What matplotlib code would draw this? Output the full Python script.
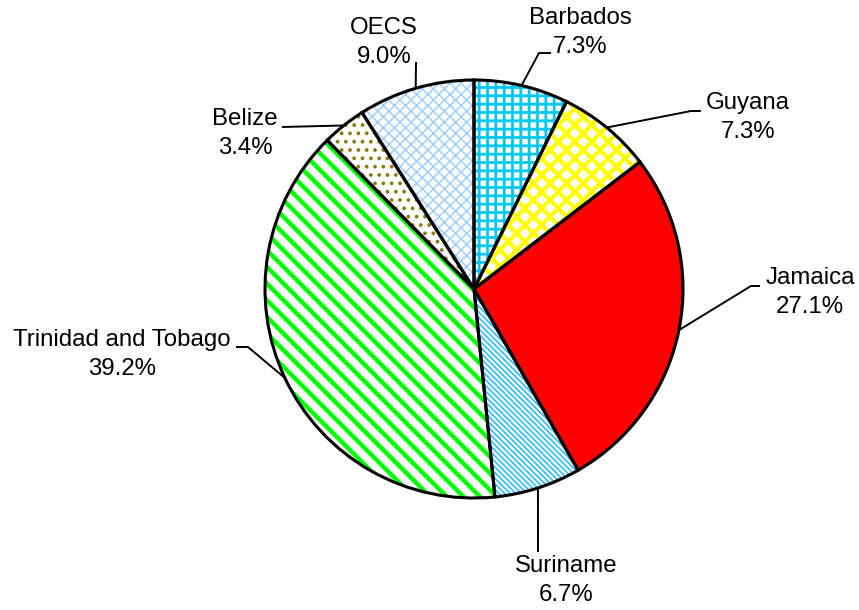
import numpy as np
import matplotlib
matplotlib.use("Agg")
import matplotlib.pyplot as plt

plt.rcParams['font.family'] = ['Liberation Sans', 'DejaVu Sans']

# Datos del gráfico
paises = ['Barbados', 'Guyana', 'Jamaica', 'Suriname',
          'Trinidad and Tobago', 'Belize', 'OECS']
porcentajes = [7.3, 7.3, 27.1, 6.7, 39.2, 3.4, 9.0]

# estilo de cada porcion: color de fondo, color del rayado, rayado, grosor
fondos = ['white', 'white', '#ff0000', 'white', 'white', 'white', 'white']
colores_rayado = ['#00c8f0', '#ffff00', '#ff0000', '#33bbff', '#00ff00',
                  '#8a7a10', '#99ccff']
rayados = ['++', 'xx', None, '\\\\\\\\\\\\', '\\\\', '..', 'xxx']
grosores = [2.0, 3.0, 1.0, 1.2, 3.2, 1.5, 1.0]

# posicion de las etiquetas (pixeles, y hacia abajo, linea de base inferior)
# y quiebres de las guias
pos_texto = [(580, 53), (748, 138), (810, 313), (566, 601),
             (122, 375), (245, 154), (384, 63)]
guias = [[(539, 53), (551, 53)], [(691, 111), (701, 111)],
         [(751, 286), (760, 286)], [(538, 552)],
         [(248, 347), (236, 347)], [(282, 127)], [(416, 62)]]

W, H = 859, 610
cx, cy, R = 474, 289, 209

fig = plt.figure(figsize=(W / 100, H / 100), dpi=100)
ax = fig.add_axes([0, 0, 1, 1])

def P(x, y):
    return (x, H - y)

# capa con los rayados
cunhas, _ = ax.pie(porcentajes, startangle=90, counterclock=False,
                   center=P(cx, cy), radius=R, colors=fondos,
                   wedgeprops=dict(linewidth=0), frame=True)
for w, c, h, g in zip(cunhas, colores_rayado, rayados, grosores):
    w.set_edgecolor(c)
    if h:
        w.set_hatch(h)
    if hasattr(w, 'set_hatch_linewidth'):
        w.set_hatch_linewidth(g)

# contorno negro encima
bordes, _ = ax.pie(porcentajes, startangle=90, counterclock=False,
                   center=P(cx, cy), radius=R, colors=['none'] * 7,
                   wedgeprops=dict(linewidth=2.2, edgecolor='black'),
                   frame=True)
ax.set_xlim(0, W)
ax.set_ylim(0, H)
ax.set_aspect('equal')
ax.axis('off')

for w, nombre, v, (tx, ty), quiebre in zip(bordes, paises, porcentajes,
                                            pos_texto, guias):
    ang = np.deg2rad((w.theta1 + w.theta2) / 2)
    ax0 = cx + R * np.cos(ang)
    ay0 = cy - R * np.sin(ang)
    pts = [(ax0, ay0)] + quiebre
    xs = [p[0] for p in pts]
    ys = [H - p[1] for p in pts]
    ax.plot(xs, ys, color='black', lw=1.4, solid_capstyle='butt')
    ax.text(tx, H - ty, '%s\n%.1f%%' % (nombre, v), ha='center',
            va='baseline', multialignment='center', fontsize=17.3,
            linespacing=1.4)

fig.savefig('out.png', dpi=100)
